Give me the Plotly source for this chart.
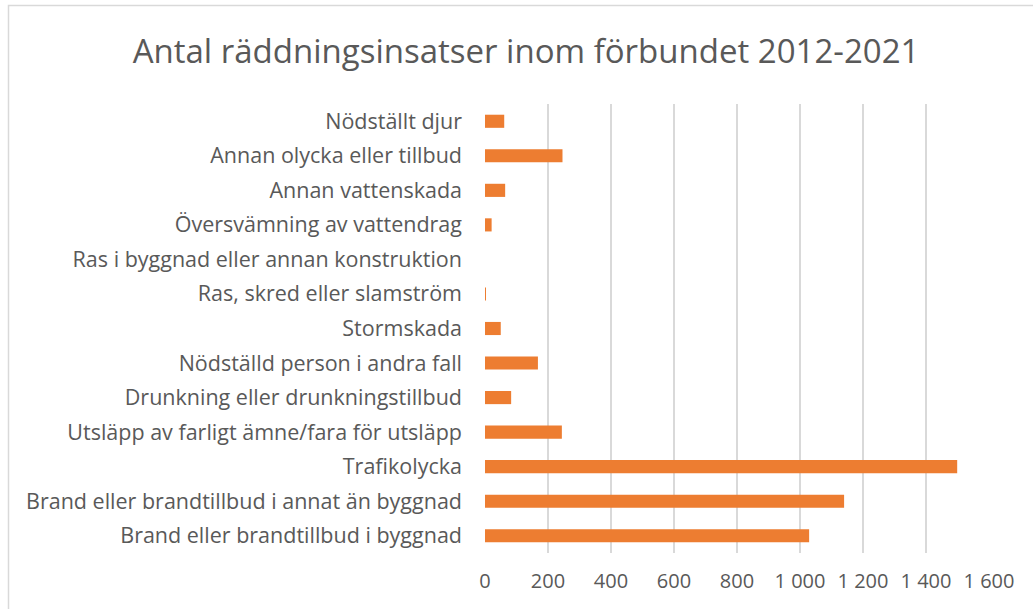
import plotly.graph_objects as go

categories = [
    "Brand eller brandtillbud i byggnad",
    "Brand eller brandtillbud i annat än byggnad",
    "Trafikolycka",
    "Utsläpp av farligt ämne/fara för utsläpp",
    "Drunkning eller drunkningstillbud",
    "Nödställd person i andra fall",
    "Stormskada",
    "Ras, skred eller slamström",
    "Ras i byggnad eller annan konstruktion",
    "Översvämning av vattendrag",
    "Annan vattenskada",
    "Annan olycka eller tillbud",
    "Nödställt djur",
]
values = [1029, 1140, 1499, 244, 83, 168, 50, 2, 0, 21, 64, 246, 61]

tick_vals = [0, 200, 400, 600, 800, 1000, 1200, 1400, 1600]
tick_text = ["0", "200", "400", "600", "800", "1 000", "1 200", "1 400", "1 600"]

title_text = "Antal räddningsinsatser inom förbundet 2012-2021"

W, H = 1033, 609
ml, mr, mt, mb = 485, 44, 104, 56
pw, ph = W - ml - mr, H - mt - mb

def px_x(p):
    return (p - ml) / pw

def px_y(p):
    return (H - mb - p) / ph

fig = go.Figure(
    go.Bar(
        x=values,
        y=categories,
        orientation="h",
        marker=dict(color="#ED7D31", line=dict(width=0)),
        width=0.38,
    )
)

fig.update_layout(
    width=W,
    height=H,
    margin=dict(l=ml, r=mr, t=mt, b=mb),
    paper_bgcolor="white",
    plot_bgcolor="white",
    font=dict(family="Open Sans, sans-serif", color="#595959"),
    showlegend=False,
    title=dict(
        text=title_text,
        x=526 / W,
        xref="container",
        xanchor="center",
        y=1 - 51 / H,
        yref="container",
        yanchor="middle",
        font=dict(size=33, color="#595959"),
    ),
    shapes=[
        dict(
            type="rect",
            xref="paper",
            yref="paper",
            x0=px_x(8.5),
            x1=px_x(1045),
            y0=px_y(620),
            y1=px_y(5.5),
            line=dict(color="#D9D9D9", width=1.5),
            fillcolor="rgba(0,0,0,0)",
            layer="below",
        )
    ],
)

fig.update_xaxes(
    range=[0, 1600],
    tickvals=tick_vals,
    ticktext=tick_text,
    showgrid=True,
    gridcolor="#D9D9D9",
    gridwidth=1.5,
    zeroline=False,
    showline=False,
    ticks="",
    tickfont=dict(size=20, color="#595959"),
    ticklabelstandoff=14,
)

fig.update_yaxes(
    categoryorder="array",
    categoryarray=categories,
    range=[-0.5, len(categories) - 0.5],
    showgrid=False,
    zeroline=False,
    showline=False,
    ticks="",
    tickfont=dict(size=21.5, color="#595959"),
    ticklabelstandoff=22,
)

fig.write_html(
    "out.html",
    config={"displayModeBar": False},
    post_script="document.body.style.margin='0';document.body.style.overflow='hidden';",
)
